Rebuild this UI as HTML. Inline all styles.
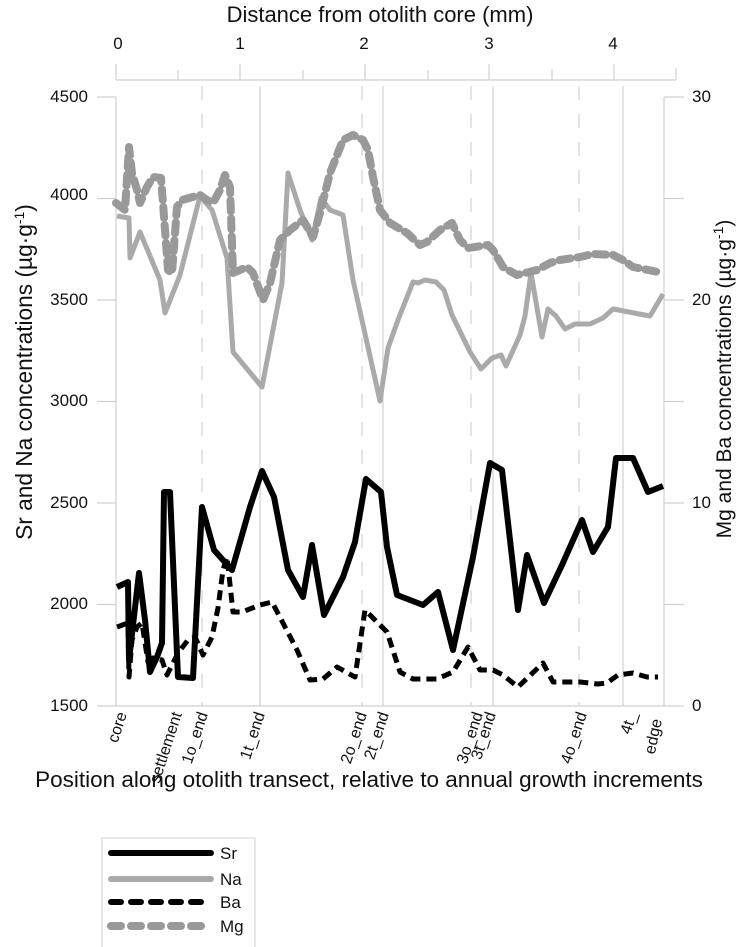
<!DOCTYPE html>
<html><head><meta charset="utf-8"><style>
body{margin:0;background:#fff}
svg{display:block;font-family:"Liberation Sans",Arial,sans-serif}
</style></head><body>
<svg width="738" height="947" viewBox="0 0 738 947" xmlns="http://www.w3.org/2000/svg">
<rect width="738" height="947" fill="#fff"/>
<text x="380" y="22" font-size="22" text-anchor="middle" fill="#111">Distance from otolith core (mm)</text>
<g font-size="17" text-anchor="middle" fill="#111">
<text x="118" y="49">0</text><text x="240" y="49">1</text><text x="364" y="49">2</text><text x="489" y="49">3</text><text x="613" y="49">4</text>
</g>
<g stroke="#d0d0d0" stroke-width="1.2">
<line x1="116" y1="80" x2="676" y2="80"/>
<line x1="116" y1="64" x2="116" y2="80"/><line x1="240" y1="64" x2="240" y2="80"/><line x1="365" y1="64" x2="365" y2="80"/><line x1="489" y1="64" x2="489" y2="80"/><line x1="614" y1="64" x2="614" y2="80"/>
<line x1="178" y1="70" x2="178" y2="80"/><line x1="303" y1="70" x2="303" y2="80"/><line x1="428" y1="70" x2="428" y2="80"/><line x1="552" y1="70" x2="552" y2="80"/><line x1="676" y1="68" x2="676" y2="80"/>
<line x1="116" y1="97" x2="116" y2="706"/>
<line x1="664" y1="97" x2="664" y2="706"/>
<line x1="97" y1="706" x2="684" y2="706"/>
<line x1="97" y1="97" x2="116" y2="97"/><line x1="97" y1="198.5" x2="116" y2="198.5"/><line x1="97" y1="300" x2="116" y2="300"/><line x1="97" y1="401.5" x2="116" y2="401.5"/><line x1="97" y1="503" x2="116" y2="503"/><line x1="97" y1="604.5" x2="116" y2="604.5"/>
<line x1="664" y1="97" x2="684" y2="97"/><line x1="664" y1="198.5" x2="684" y2="198.5"/><line x1="664" y1="300" x2="684" y2="300"/><line x1="664" y1="401.5" x2="684" y2="401.5"/><line x1="664" y1="503" x2="684" y2="503"/><line x1="664" y1="604.5" x2="684" y2="604.5"/>
<line x1="260" y1="86" x2="260" y2="706"/><line x1="383" y1="86" x2="383" y2="706"/><line x1="493" y1="86" x2="493" y2="706"/><line x1="623" y1="86" x2="623" y2="706"/>
</g>
<g stroke="#d0d0d0" stroke-width="1.2" stroke-dasharray="14,14">
<line x1="202" y1="86" x2="202" y2="706"/><line x1="362" y1="86" x2="362" y2="706"/><line x1="471" y1="86" x2="471" y2="706"/><line x1="579" y1="86" x2="579" y2="706"/>
</g>
<g font-size="17" fill="#111" text-anchor="end">
<text x="88" y="102">4500</text><text x="88" y="200">4000</text><text x="88" y="305">3500</text><text x="88" y="406">3000</text><text x="88" y="508">2500</text><text x="88" y="609">2000</text><text x="88" y="711">1500</text>
</g>
<g font-size="17" fill="#111">
<text x="692" y="102">30</text><text x="692" y="305">20</text><text x="692" y="508">10</text><text x="692" y="711">0</text>
</g>
<text transform="translate(32,372) rotate(-90)" font-size="22.7" text-anchor="middle" fill="#111">Sr and Na concentrations (µg·g<tspan font-size="14" dy="-8">-1</tspan><tspan dy="8">)</tspan></text>
<text transform="translate(731,379) rotate(-90)" font-size="21" text-anchor="middle" fill="#111">Mg and Ba concentrations (µg·g<tspan font-size="14" dy="-8">-1</tspan><tspan dy="8">)</tspan></text>
<g font-size="16" fill="#111" text-anchor="end">
<text transform="translate(127,714) rotate(-72)">core</text>
<text transform="translate(182,714) rotate(-72)">settlement</text>
<text transform="translate(208,714) rotate(-72)">1o_end</text>
<text transform="translate(265,714) rotate(-72)">1t_end</text>
<text transform="translate(367,714) rotate(-72)">2o_end</text>
<text transform="translate(389,714) rotate(-72)">2t_end</text>
<text transform="translate(483,714) rotate(-72)">3o_end</text>
<text transform="translate(496,714) rotate(-72)">3t_end</text>
<text transform="translate(587,714) rotate(-72)">4o_end</text>
<text transform="translate(637,714) rotate(-72)">4t_</text>
<text transform="translate(662,720) rotate(-78)">edge</text>
</g>
<text x="369" y="787" font-size="22.5" text-anchor="middle" fill="#111">Position along otolith transect, relative to annual growth increments</text>
<g fill="none" stroke-linejoin="round">
<polyline stroke="#aaaaaa" stroke-width="5" points="117,216 129,218 130,258 140,232 160,280 165,313 180,275 200,196 212,210 227,258 233,352 262,387 282,283 288,173 300,210 312,240 321,198 330,210 343,215 353,280 380,401 388,348 398,320 413,282 418,283 425,280 436,282 444,290 452,315 470,352 481,369 492,358 501,355 506,366 520,335 525,316 531,273 542,337 548,309 556,316 565,329 575,324 590,324 603,318 613,309 650,316 663,294"/>
<polyline stroke="#999999" stroke-width="8" stroke-dasharray="11,7" stroke-linecap="round" points="116,203 125,210 129,147 132,173 137,190 140,203 147,187 153,177 161,178 163,203 168,270 172,273 177,207 182,200 200,195 207,200 213,203 220,190 225,175 230,187 233,273 240,270 247,267 253,273 263,300 270,283 280,240 290,230 303,220 313,237 320,213 330,173 343,140 353,135 363,140 368,150 373,177 380,210 390,223 407,233 420,245 427,242 440,230 452,223 460,240 468,248 488,245 493,250 503,267 517,275 537,270 550,263 560,260 580,257 593,254 613,255 623,260 633,267 658,272"/>
<polyline stroke="#000" stroke-width="6" points="117,587 128,582 129,660 139,573 145,620 150,672 157,657 162,643 164,492 170,492 178,677 193,678 202,507 214,550 232,570 250,507 262,471 274,497 288,570 303,597 312,545 324,615 343,577 355,542 366,479 381,492 387,547 397,595 423,605 438,592 453,650 473,557 490,463 502,470 518,610 527,555 544,603 562,565 582,520 593,552 608,527 616,458 633,458 648,492 663,486"/>
<polyline stroke="#000" stroke-width="5" stroke-dasharray="10,6" points="117,627 128,623 129,677 132,640 137,627 142,623 148,662 153,658 162,660 167,675 172,665 178,653 188,640 195,637 203,655 212,637 218,608 223,570 227,557 233,612 242,612 260,605 272,602 283,623 297,650 310,680 323,679 337,667 355,677 365,610 373,618 387,632 400,672 413,679 437,679 453,672 468,647 480,670 493,670 503,675 518,687 543,663 553,682 580,682 598,684 607,683 618,675 633,673 647,677 658,677"/>
</g>
<rect x="102" y="838" width="153" height="115" fill="#fff" stroke="#d0d0d0" stroke-width="1"/>
<g fill="none" stroke-linecap="round">
<line x1="111" y1="853" x2="211" y2="853" stroke="#000" stroke-width="6"/>
<line x1="111" y1="879" x2="211" y2="879" stroke="#aaa" stroke-width="6"/>
<line x1="111" y1="902" x2="211" y2="902" stroke="#000" stroke-width="6" stroke-dasharray="10,10"/>
<line x1="111" y1="926" x2="211" y2="926" stroke="#999" stroke-width="8" stroke-dasharray="10,10"/>
</g>
<g font-size="17" fill="#111">
<text x="220" y="859">Sr</text><text x="220" y="885">Na</text><text x="220" y="908">Ba</text><text x="220" y="932">Mg</text>
</g>
</svg>
</body></html>
